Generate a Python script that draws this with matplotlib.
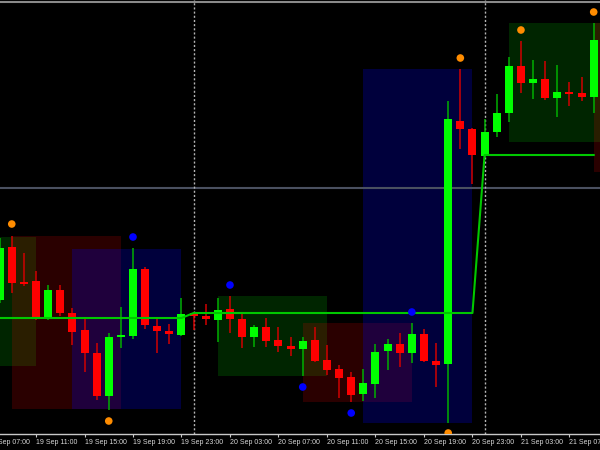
import matplotlib
matplotlib.use('Agg')
import matplotlib.pyplot as plt
import matplotlib.transforms as mtransforms
from matplotlib.patches import Rectangle

# heures depuis 19 Sep 00:00, prix en points (echelle du graphique)
hours = list(range(8, 58))
opens = [134, 187, 152, 153, 116, 144, 121, 104, 81, 38, 97, 98, 165, 108, 103, 99,
         121, 118, 114, 125, 115, 97, 107, 94, 88, 85, 94, 74, 65, 57, 40, 50, 83, 90,
         81, 100, 73, 70, 313, 305, 278, 302, 321, 368, 351, 355, 336, 342, 341, 337]
highs = [196, 198, 181, 163, 149, 149, 126, 117, 91, 101, 127, 186, 167, 116, 110, 136,
         122, 130, 136, 138, 121, 109, 116, 107, 97, 97, 107, 89, 69, 62, 65, 90, 95, 101,
         111, 105, 91, 333, 365, 306, 315, 340, 377, 393, 374, 373, 369, 352, 357, 411]
lows = [131, 141, 148, 114, 114, 118, 89, 62, 34, 24, 86, 95, 105, 81, 90, 98,
        104, 109, 92, 101, 86, 87, 87, 82, 78, 58, 72, 59, 36, 32, 33, 36, 64, 67,
        71, 72, 47, 11, 285, 250, 277, 297, 312, 341, 335, 334, 317, 328, 333, 321]
closes = [186, 151, 150, 116, 144, 121, 102, 81, 38, 97, 98, 165, 109, 103, 100, 120,
          118, 115, 124, 115, 97, 107, 93, 88, 85, 93, 73, 64, 56, 39, 51, 82, 90, 81,
          100, 73, 69, 315, 305, 279, 302, 321, 368, 351, 355, 336, 342, 340, 337, 394]

# ligne verte (niveau par bougie)
level = [116] * 16 + [121] * 24 + [279] * 10

# points (fractales)
dot_hours = [9, 19, 17, 27, 33, 37, 42, 45, 46, 51, 57]
dot_prices = [210, 197, 13, 149, 47, 21, 122, 1, 376, 404, 422]
dot_colors = ['#ff8c00', '#0000ff', '#ff8c00', '#0000ff', '#0000ff', '#0000ff',
              '#0000ff', '#ff8c00', '#ff8c00', '#ff8c00', '#ff8c00']

# boites : debut, fin (heures), bas, haut, couleur
box_start = [2, 9, 14, 26, 33, 38, 50, 57]
box_end = [11, 18, 23, 35, 42, 47, 59, 66]
box_low = [68, 25, 25, 58, 32, 11, 292, 262]
box_high = [197, 198, 185, 138, 111, 365, 411, 411]
box_colors = ['#00ff00', '#ff0000', '#0000ff', '#00ff00', '#ff0000', '#0000ff', '#00ff00', '#ff0000']

tick_hours = [7, 11, 15, 19, 23, 27, 31, 35, 39, 43, 47, 51, 55]
tick_labels = ['19 Sep 07:00', '19 Sep 11:00', '19 Sep 15:00', '19 Sep 19:00', '19 Sep 23:00',
               '20 Sep 03:00', '20 Sep 07:00', '20 Sep 11:00', '20 Sep 15:00', '20 Sep 19:00',
               '20 Sep 23:00', '21 Sep 03:00', '21 Sep 07:00']

fig = plt.figure(figsize=(6, 4.5), dpi=100, facecolor='black')
ax = fig.add_axes([0, 16 / 450, 1, 434 / 450])
ax.set_facecolor('black')

# boites transparentes
alphas = {'#00ff00': 0.15, '#ff0000': 0.17, '#0000ff': 0.24}
for s, e, lo, hi, c in zip(box_start, box_end, box_low, box_high, box_colors):
    ax.add_patch(Rectangle((s, lo), e - s, hi - lo, facecolor=c, alpha=alphas[c],
                           edgecolor='none', zorder=1))

# lignes horizontales grises
ax.axhline(432, color='#8a8a8a', lw=1.5, zorder=2)
ax.axhline(246, color='#4a5060', lw=1.5, zorder=2)

# separateurs de jours
for d in [24, 48]:
    ax.axvline(d, color='#b4b4b4', lw=1, linestyle=(0, (1.5, 1.5)), zorder=2)

# bougies
for h, o, hi, lo, c in zip(hours, opens, highs, lows, closes):
    up = c >= o
    col = '#00ff00' if up else '#ff0000'
    wcol = '#00b000' if up else '#d00000'
    ax.vlines(h, lo, hi, color=wcol, lw=1.1, zorder=3)
    haut = max(abs(c - o), 1.6)
    ax.bar(h, haut, bottom=min(o, c), width=0.66, color=col, edgecolor='none', zorder=4)

ax.plot(hours, level, color='#00c800', lw=1.5, zorder=5)

ax.scatter(dot_hours, dot_prices, s=30, c=dot_colors, edgecolors='none', zorder=6)

for sp in ['top', 'left', 'right']:
    ax.spines[sp].set_visible(False)
ax.spines['bottom'].set_color('#c8c8c8')
ax.spines['bottom'].set_linewidth(1)
ax.set_yticks([])
ax.set_xticks(tick_hours)
ax.set_xticklabels(tick_labels, ha='left', fontsize=5, color='#d8d8d8', family='Liberation Sans')
ax.tick_params(axis='x', direction='out', length=2, width=0.8, color='#c8c8c8', pad=1.5)
# limites apres set_xticks (sinon elles s'elargissent)
ax.set_xlim(8.03, 57.52)
ax.set_ylim(0, 434)

# premiere etiquette, coupee au bord gauche comme dans l'original
trans = mtransforms.offset_copy(ax.get_xaxis_transform(), fig=fig, y=-3.5, units='points')
ax.text(tick_hours[0], 0, tick_labels[0], transform=trans, ha='left', va='top',
        fontsize=5, color='#d8d8d8', family='Liberation Sans', clip_on=False)

fig.savefig('out.png', dpi=100, facecolor='black')
